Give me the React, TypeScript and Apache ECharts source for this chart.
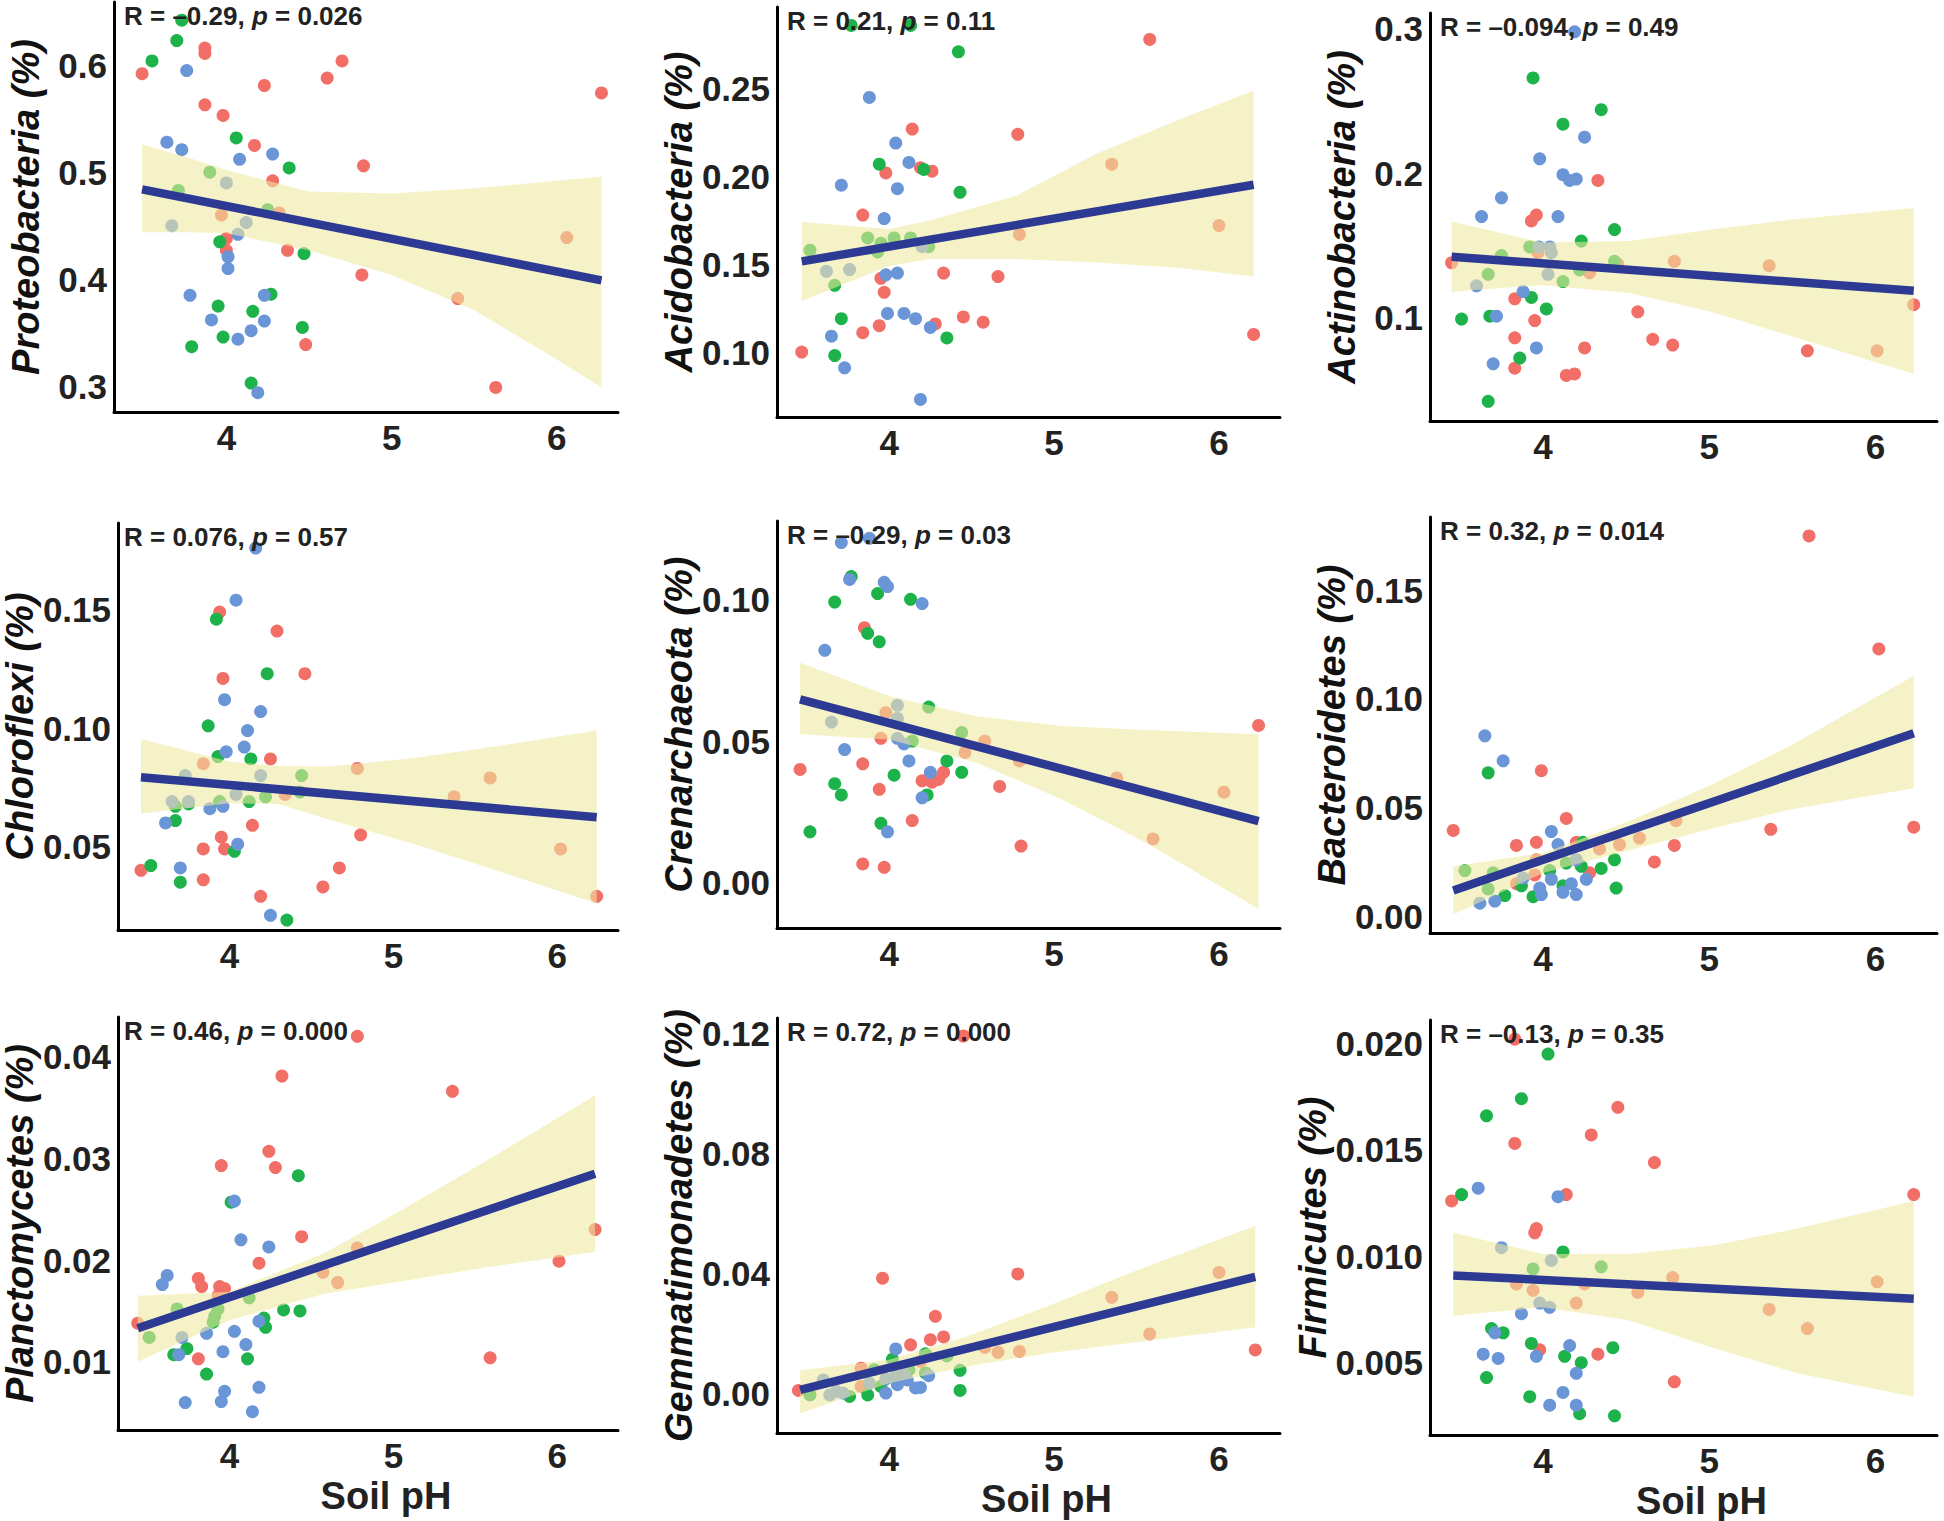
import React, { useEffect, useRef } from "react";
import * as echarts from "echarts";

type Pt = [number, number];
type BandRow = [number, number, number];

// ---------- shared x axis ----------
const xRange: Pt = [3.32, 6.37];
const xTicks = [4, 5, 6];

// ---------- Panel 1: Proteobacteria ----------
const p1Red: Pt[] = [[3.49,0.592],[3.87,0.616],[3.87,0.611],[4.70,0.604],[4.61,0.588],[4.23,0.581],[3.87,0.563],[3.98,0.553],[4.17,0.525],[4.28,0.492],[4.83,0.506],[6.27,0.574],[4.00,0.438],[4.00,0.427],[4.37,0.427],[4.82,0.404],[4.48,0.339],[5.63,0.299],[3.97,0.460],[4.32,0.462],[6.06,0.439],[5.40,0.382]];
const p1Green: Pt[] = [[3.73,0.642],[3.70,0.623],[3.55,0.604],[4.06,0.532],[4.38,0.504],[3.96,0.435],[4.47,0.424],[4.27,0.386],[3.95,0.375],[4.16,0.370],[3.98,0.346],[3.79,0.337],[4.46,0.355],[4.15,0.303],[3.90,0.500],[3.71,0.483],[4.25,0.465]];
const p1Blue: Pt[] = [[3.76,0.595],[3.64,0.528],[3.73,0.521],[4.08,0.512],[4.28,0.517],[4.07,0.442],[4.01,0.421],[4.01,0.410],[3.78,0.385],[4.23,0.385],[3.91,0.362],[4.23,0.361],[4.15,0.352],[4.07,0.344],[4.19,0.294],[4.00,0.490],[3.67,0.450],[4.12,0.453]];
const p1Line: Pt[] = [[3.49,0.484],[6.27,0.399]];
const p1Band: BandRow[] = [[3.49,0.444,0.526],[3.8,0.444,0.512],[4.0,0.443,0.502],[4.5,0.427,0.482],[5.0,0.404,0.480],[5.5,0.371,0.485],[6.0,0.325,0.492],[6.27,0.299,0.496]];
const p1YRange: Pt = [0.276, 0.659];
const p1YTicks = [0.3, 0.4, 0.5, 0.6];

// ---------- Panel 2: Acidobacteria ----------
const p2Red: Pt[] = [[5.58,0.278],[4.14,0.227],[4.78,0.224],[3.98,0.202],[4.19,0.205],[4.26,0.203],[3.84,0.178],[4.79,0.167],[5.35,0.207],[6.00,0.172],[3.95,0.142],[3.97,0.134],[4.33,0.145],[4.66,0.143],[4.45,0.120],[4.57,0.117],[4.28,0.116],[3.94,0.115],[3.84,0.111],[3.47,0.100],[6.21,0.110]];
const p2Green: Pt[] = [[3.77,0.286],[4.13,0.286],[4.42,0.271],[3.94,0.207],[4.21,0.204],[4.43,0.191],[3.52,0.158],[3.87,0.165],[3.95,0.162],[4.03,0.165],[4.13,0.165],[4.24,0.160],[3.93,0.157],[3.67,0.138],[3.71,0.119],[4.35,0.108],[3.67,0.098]];
const p2Blue: Pt[] = [[3.88,0.245],[4.04,0.219],[4.12,0.208],[3.71,0.195],[4.05,0.193],[3.97,0.176],[3.62,0.146],[3.76,0.147],[3.98,0.144],[4.05,0.145],[4.20,0.160],[3.99,0.122],[4.09,0.122],[4.16,0.119],[4.25,0.114],[3.65,0.109],[3.73,0.091],[4.19,0.073]];
const p2Line: Pt[] = [[3.47,0.1516],[6.21,0.1953]];
const p2Band: BandRow[] = [[3.47,0.129,0.174],[4.0,0.149,0.170],[4.25,0.153,0.175],[4.77,0.153,0.189],[5.26,0.151,0.213],[5.75,0.148,0.232],[6.21,0.143,0.249]];
const p2YRange: Pt = [0.063, 0.2965];
const p2YTicks = [0.10, 0.15, 0.20, 0.25];

// ---------- Panel 3: Actinobacteria ----------
const p3Red: Pt[] = [[4.33,0.195],[3.96,0.171],[3.93,0.167],[3.97,0.145],[3.45,0.138],[4.79,0.139],[5.36,0.136],[4.45,0.137],[4.28,0.131],[3.83,0.113],[4.57,0.104],[3.95,0.098],[3.83,0.086],[4.66,0.085],[4.78,0.081],[4.25,0.079],[5.59,0.077],[6.01,0.077],[6.23,0.109],[3.83,0.065],[4.14,0.060],[4.19,0.061]];
const p3Green: Pt[] = [[3.94,0.266],[4.35,0.244],[4.12,0.234],[4.43,0.161],[4.23,0.153],[3.92,0.149],[3.75,0.143],[4.43,0.139],[4.22,0.133],[3.67,0.130],[4.12,0.125],[3.93,0.114],[4.02,0.106],[3.51,0.099],[3.68,0.101],[3.86,0.072],[3.67,0.042]];
const p3Blue: Pt[] = [[4.19,0.298],[4.25,0.225],[3.98,0.210],[4.12,0.199],[4.16,0.195],[4.20,0.196],[3.75,0.183],[3.63,0.170],[4.09,0.170],[3.975,0.149],[4.04,0.149],[4.05,0.145],[4.03,0.130],[3.60,0.122],[3.88,0.118],[3.72,0.101],[3.96,0.079],[3.70,0.068]];
const p3Line: Pt[] = [[3.45,0.1422],[6.23,0.1186]];
const p3Band: BandRow[] = [[3.45,0.118,0.1665],[4.0,0.1225,0.152],[4.52,0.117,0.153],[5.01,0.104,0.161],[5.5,0.087,0.168],[6.23,0.061,0.176]];
const p3YRange: Pt = [0.0284, 0.311];
const p3YTicks = [0.1, 0.2, 0.3];

// ---------- Panel 4: Chloroflexi ----------
const p4Red: Pt[] = [[3.94,0.149],[4.29,0.141],[4.46,0.123],[3.96,0.121],[4.25,0.087],[3.84,0.085],[4.78,0.083],[5.59,0.079],[4.34,0.072],[5.37,0.071],[4.14,0.059],[4.80,0.055],[3.95,0.054],[3.84,0.049],[3.97,0.049],[6.02,0.049],[3.46,0.040],[3.84,0.036],[4.67,0.041],[4.57,0.033],[4.19,0.029],[6.24,0.029]];
const p4Green: Pt[] = [[3.92,0.146],[4.23,0.123],[3.87,0.101],[3.93,0.088],[4.13,0.087],[4.44,0.080],[4.12,0.069],[4.22,0.071],[3.94,0.069],[4.43,0.073],[3.67,0.067],[3.75,0.068],[3.67,0.061],[4.03,0.048],[3.52,0.042],[3.70,0.035],[4.35,0.019]];
const p4Blue: Pt[] = [[4.16,0.176],[4.04,0.154],[3.97,0.112],[4.19,0.107],[4.11,0.099],[4.09,0.092],[3.98,0.090],[3.73,0.080],[4.19,0.080],[3.65,0.069],[3.75,0.069],[4.04,0.072],[3.88,0.066],[3.96,0.067],[3.61,0.060],[4.05,0.051],[3.70,0.041],[4.25,0.021]];
const p4Line: Pt[] = [[3.46,0.0793],[6.24,0.0624]];
const p4Band: BandRow[] = [[3.46,0.064,0.0954],[4.0,0.0683,0.0859],[4.3,0.068,0.084],[4.61,0.0613,0.0838],[5.11,0.0514,0.0873],[5.62,0.0401,0.0923],[6.24,0.026,0.099]];
const p4YRange: Pt = [0.0148, 0.1866];
const p4YTicks = [0.05, 0.10, 0.15];

// ---------- Panel 5: Crenarchaeota ----------
const p5Red: Pt[] = [[3.85,0.090],[3.98,0.060],[3.95,0.051],[4.58,0.050],[4.46,0.046],[4.79,0.043],[5.38,0.037],[6.03,0.032],[5.60,0.0155],[6.24,0.0555],[3.46,0.040],[3.84,0.042],[3.94,0.033],[4.20,0.036],[4.26,0.0355],[4.30,0.0365],[4.33,0.039],[4.67,0.034],[4.14,0.022],[4.80,0.013],[3.84,0.0067],[3.97,0.0055]];
const p5Green: Pt[] = [[3.77,0.108],[3.93,0.102],[3.67,0.099],[4.13,0.100],[3.87,0.088],[3.94,0.085],[4.24,0.062],[4.44,0.053],[4.14,0.050],[4.35,0.043],[4.44,0.039],[4.03,0.038],[3.67,0.035],[3.71,0.031],[4.23,0.031],[3.95,0.021],[3.52,0.018]];
const p5Blue: Pt[] = [[3.71,0.120],[3.88,0.1215],[3.76,0.107],[3.97,0.106],[3.99,0.1045],[4.20,0.0985],[3.61,0.082],[4.05,0.0626],[3.65,0.0567],[4.05,0.058],[4.05,0.051],[4.09,0.049],[3.73,0.047],[4.12,0.043],[4.25,0.039],[4.20,0.030],[3.99,0.018]];
const p5Line: Pt[] = [[3.46,0.0647],[6.24,0.0218]];
const p5Band: BandRow[] = [[3.46,0.0524,0.0776],[4.0,0.0506,0.0659],[4.53,0.0424,0.0588],[5.05,0.0294,0.0553],[5.56,0.0141,0.0539],[6.24,-0.0092,0.0524]];
const p5YRange: Pt = [-0.0159, 0.1276];
const p5YTicks = [0.00, 0.05, 0.10];

// ---------- Panel 6: Bacteroidetes ----------
const p6Red: Pt[] = [[5.60,0.175],[6.02,0.123],[3.99,0.067],[3.46,0.0395],[5.37,0.040],[6.23,0.041],[4.14,0.045],[3.84,0.0326],[3.96,0.034],[4.79,0.0326],[4.67,0.025],[4.28,0.020],[4.80,0.044],[4.58,0.036],[4.46,0.033],[4.34,0.031],[4.20,0.034],[3.96,0.026],[3.95,0.019],[3.84,0.015]];
const p6Green: Pt[] = [[3.67,0.066],[4.43,0.026],[4.35,0.022],[4.44,0.013],[4.23,0.023],[3.77,0.0095],[3.87,0.014],[3.94,0.009],[4.12,0.014],[3.53,0.021],[3.70,0.020],[3.67,0.0126],[4.04,0.021],[4.14,0.0245],[4.24,0.034]];
const p6Blue: Pt[] = [[3.65,0.083],[3.76,0.0715],[4.05,0.039],[3.62,0.006],[3.71,0.007],[3.98,0.013],[3.99,0.010],[4.05,0.017],[4.12,0.011],[4.17,0.015],[4.20,0.010],[4.26,0.017],[4.09,0.033],[3.88,0.0176],[4.20,0.026]];
const p6Line: Pt[] = [[3.46,0.0119],[6.23,0.0842]];
const p6Band: BandRow[] = [[3.46,0.0008,0.023],[4.0,0.0199,0.0291],[4.49,0.0298,0.0429],[4.99,0.0398,0.0597],[5.48,0.049,0.0781],[6.23,0.0589,0.1107]];
const p6YRange: Pt = [-0.0077, 0.1837];
const p6YTicks = [0.00, 0.05, 0.10, 0.15];

// ---------- Panel 7: Planctomycetes ----------
const p7Red: Pt[] = [[4.78,0.042],[4.32,0.0381],[5.36,0.0366],[4.24,0.0307],[3.95,0.0293],[4.28,0.0291],[4.44,0.0223],[4.18,0.0197],[3.81,0.0182],[6.01,0.0199],[5.59,0.0104],[3.81,0.0103],[3.44,0.0138],[6.23,0.023],[4.78,0.0212],[4.57,0.0188],[4.66,0.0178],[3.83,0.0174],[3.94,0.0174],[3.97,0.0172],[3.93,0.0165]];
const p7Green: Pt[] = [[4.42,0.0283],[4.01,0.0257],[4.33,0.0151],[4.43,0.015],[4.21,0.0143],[4.22,0.0134],[3.74,0.0113],[3.66,0.0107],[4.11,0.0103],[3.86,0.0088],[3.68,0.0152],[3.51,0.0124],[4.12,0.0163],[3.93,0.0152],[3.91,0.0145],[3.90,0.0139]];
const p7Blue: Pt[] = [[4.03,0.0258],[4.07,0.022],[4.24,0.0213],[3.62,0.0185],[3.59,0.0176],[4.18,0.014],[3.86,0.0128],[4.03,0.013],[4.10,0.0117],[3.96,0.011],[3.69,0.0107],[4.18,0.0075],[3.97,0.0071],[3.95,0.0061],[3.73,0.006],[4.14,0.0051],[3.71,0.0124]];
const p7Line: Pt[] = [[3.44,0.0133],[6.23,0.0285]];
const p7Band: BandRow[] = [[3.44,0.010,0.0165],[4.0,0.0141,0.0169],[4.58,0.0167,0.0207],[5.08,0.018,0.0252],[5.57,0.0193,0.0298],[6.23,0.0208,0.0362]];
const p7YRange: Pt = [0.0033, 0.0439];
const p7YTicks = [0.01, 0.02, 0.03, 0.04];

// ---------- Panel 8: Gemmatimonadetes ----------
const p8Red: Pt[] = [[4.45,0.119],[3.96,0.0383],[4.78,0.0397],[4.28,0.0256],[4.33,0.0187],[4.25,0.0178],[4.13,0.0161],[6.22,0.0144],[3.45,0.0009],[6.00,0.0402],[5.35,0.0319],[5.58,0.0197],[4.66,0.0136],[4.79,0.0139],[4.58,0.0152],[3.83,0.0083],[3.83,0.0022],[4.19,0.0106]];
const p8Green: Pt[] = [[4.43,0.0076],[4.43,0.0009],[3.87,-0.0006],[3.76,-0.0011],[3.52,-0.0006],[4.02,0.0113],[4.22,0.0131],[4.35,0.0124],[3.91,0.0078],[4.12,0.0078],[4.22,0.0067],[3.95,0.0022]];
const p8Blue: Pt[] = [[4.04,0.0147],[4.24,0.0058],[3.98,0.0],[4.05,0.0028],[4.16,0.0017],[4.19,0.0019],[4.11,0.0044],[3.60,0.0044],[3.64,-0.0006],[3.72,0.0],[3.68,0.0006],[3.88,0.0033],[3.98,0.0047],[4.04,0.0056],[4.09,0.0067]];
const p8Line: Pt[] = [[3.46,0.0011],[6.22,0.0387]];
const p8Band: BandRow[] = [[3.46,-0.0067,0.0076],[4.0,0.0033,0.0111],[4.47,0.0089,0.0189],[4.96,0.0133,0.0289],[5.46,0.0167,0.04],[6.22,0.0219,0.0558]];
const p8YRange: Pt = [-0.0133, 0.125];
const p8YTicks = [0.00, 0.04, 0.08, 0.12];

// ---------- Panel 9: Firmicutes ----------
const p9Red: Pt[] = [[3.83,0.0202],[4.45,0.017],[4.29,0.0157],[3.83,0.0153],[4.67,0.0144],[4.14,0.0129],[3.45,0.0126],[6.23,0.0129],[3.96,0.0113],[3.95,0.0111],[3.98,0.0056],[4.33,0.0054],[4.79,0.0041],[3.84,0.0087],[3.94,0.0084],[4.20,0.0078],[4.25,0.0087],[4.57,0.0083],[4.78,0.009],[5.36,0.0075],[5.59,0.0066],[6.01,0.0088]];
const p9Green: Pt[] = [[4.03,0.0195],[3.87,0.0174],[3.66,0.0166],[3.51,0.0129],[4.12,0.0102],[3.69,0.0066],[3.76,0.0064],[3.93,0.0059],[4.13,0.0053],[4.23,0.005],[4.42,0.0057],[3.66,0.0043],[3.92,0.0034],[4.22,0.0026],[4.43,0.0025],[3.94,0.0094],[4.35,0.0095]];
const p9Blue: Pt[] = [[3.61,0.0132],[4.09,0.0128],[3.87,0.0073],[3.71,0.0064],[3.64,0.0054],[3.73,0.0052],[3.96,0.0053],[4.16,0.0058],[4.20,0.0045],[4.12,0.0036],[4.04,0.003],[4.20,0.003],[3.75,0.0104],[4.05,0.0098],[3.98,0.0078],[4.04,0.0076]];
const p9Line: Pt[] = [[3.46,0.0091],[6.23,0.008]];
const p9Band: BandRow[] = [[3.46,0.0072,0.0111],[4.0,0.0076,0.0101],[4.51,0.007,0.0101],[5.02,0.0057,0.0105],[5.53,0.0045,0.0113],[6.23,0.0034,0.0126]];
const p9YRange: Pt = [0.0016, 0.0211];
const p9YTicks = [0.005, 0.010, 0.015, 0.020];

// ---------- panel labels ----------
const panelNames = ["Proteobacteria (%)", "Acidobacteria (%)", "Actinobacteria (%)", "Chloroflexi (%)", "Crenarchaeota (%)", "Bacteroidetes (%)", "Planctomycetes (%)", "Gemmatimonadetes (%)", "Firmicutes (%)"];
const rValues = ["–0.29", "0.21", "–0.094", "0.076", "–0.29", "0.32", "0.46", "0.72", "–0.13"];
const pValues = ["0.026", "0.11", "0.49", "0.57", "0.03", "0.014", "0.000", "0.000", "0.35"];
const yDecimals = [1, 2, 1, 2, 2, 2, 2, 2, 3];
const xAxisTitle = "Soil pH";

// ---------- layout (pixels) ----------
const colLeft = [114, 777, 1430];
const colRight = [618, 1280, 1937];
const panelTop = [2, 7, 13, 523, 521, 517, 1017, 1018, 1020];
const panelBottom = [412, 417, 421, 930, 928, 933, 1430, 1433, 1438];

const RED = "#F26F68";
const GREEN = "#1DB34A";
const BLUE = "#6A96D8";
const BAND = "rgba(239,232,160,0.58)";
const LINE = "#2D3A94";
const FONT = "'Liberation Sans', Arial, sans-serif";

const panels = [
  { red: p1Red, green: p1Green, blue: p1Blue, line: p1Line, band: p1Band, yr: p1YRange, yt: p1YTicks },
  { red: p2Red, green: p2Green, blue: p2Blue, line: p2Line, band: p2Band, yr: p2YRange, yt: p2YTicks },
  { red: p3Red, green: p3Green, blue: p3Blue, line: p3Line, band: p3Band, yr: p3YRange, yt: p3YTicks },
  { red: p4Red, green: p4Green, blue: p4Blue, line: p4Line, band: p4Band, yr: p4YRange, yt: p4YTicks },
  { red: p5Red, green: p5Green, blue: p5Blue, line: p5Line, band: p5Band, yr: p5YRange, yt: p5YTicks },
  { red: p6Red, green: p6Green, blue: p6Blue, line: p6Line, band: p6Band, yr: p6YRange, yt: p6YTicks },
  { red: p7Red, green: p7Green, blue: p7Blue, line: p7Line, band: p7Band, yr: p7YRange, yt: p7YTicks },
  { red: p8Red, green: p8Green, blue: p8Blue, line: p8Line, band: p8Band, yr: p8YRange, yt: p8YTicks },
  { red: p9Red, green: p9Green, blue: p9Blue, line: p9Line, band: p9Band, yr: p9YRange, yt: p9YTicks },
];

function buildOption() {
  const grid: any[] = [];
  const xAxis: any[] = [];
  const yAxis: any[] = [];
  const series: any[] = [];
  const graphic: any[] = [];

  panels.forEach((p, i) => {
    const col = i % 3;
    const left = colLeft[col];
    const top = panelTop[i];
    grid.push({ left, top, width: colRight[col] - left, height: panelBottom[i] - top, containLabel: false });

    const axisLine = { show: true, onZero: false, lineStyle: { color: "#000", width: 3 } };
    const labelStyle = { fontSize: 35, fontWeight: "bold", color: "#222", fontFamily: FONT };

    xAxis.push({
      gridIndex: i, type: "value", min: xRange[0], max: xRange[1], z: 6,
      axisLine, axisTick: { show: false }, splitLine: { show: false },
      axisLabel: { ...labelStyle, margin: 8, customValues: xTicks, formatter: (v: number) => String(v) },
      name: i >= 6 ? xAxisTitle : "",
      nameLocation: "middle", nameGap: 47,
      nameTextStyle: { fontSize: 38, fontWeight: "bold", color: "#222", fontFamily: FONT, padding: [0, 0, 0, 36] },
    });
    const dec = yDecimals[i];
    yAxis.push({
      gridIndex: i, type: "value", min: p.yr[0], max: p.yr[1], z: 6,
      axisLine, axisTick: { show: false }, splitLine: { show: false },
      axisLabel: { ...labelStyle, margin: 7, customValues: p.yt, formatter: (v: number) => v.toFixed(dec) },
      name: panelNames[i], nameLocation: "middle", nameGap: 69,
      nameTextStyle: { fontSize: 38, fontWeight: "bold", fontStyle: "italic", color: "#111", fontFamily: FONT },
    });

    const groups: [Pt[], string][] = [[p.red, RED], [p.green, GREEN], [p.blue, BLUE]];
    groups.forEach(([data, color]) => {
      series.push({
        type: "scatter", xAxisIndex: i, yAxisIndex: i, data, symbol: "circle", symbolSize: 13, z: 2,
        itemStyle: { color, opacity: 1 }, silent: true,
      });
    });

    const band = p.band;
    series.push({
      type: "custom", xAxisIndex: i, yAxisIndex: i, data: band, silent: true, z: 4,
      encode: { x: 0, y: [1, 2] },
      renderItem: (params: any, api: any) => {
        if (params.dataIndex !== 0) return { type: "group", children: [] };
        const upper = band.map((r) => api.coord([r[0], r[2]]));
        const lower = band.slice().reverse().map((r) => api.coord([r[0], r[1]]));
        return { type: "polygon", shape: { points: upper.concat(lower) }, style: { fill: BAND } };
      },
    });

    series.push({
      type: "line", xAxisIndex: i, yAxisIndex: i, data: p.line, symbol: "none", silent: true, z: 5,
      lineStyle: { color: LINE, width: 8.5, cap: "butt" },
    });

    graphic.push({
      type: "text", x: left + 10, y: top + 14, z: 100,
      style: {
        text: `{n|R = ${rValues[i]}, }{i|p}{n| = ${pValues[i]}}`,
        verticalAlign: "middle",
        rich: {
          n: { fontSize: 26, fontWeight: "bold", fontFamily: FONT, fill: "#222" },
          i: { fontSize: 26, fontWeight: "bold", fontStyle: "italic", fontFamily: FONT, fill: "#222" },
        },
      },
    });
  });

  return { animation: false, backgroundColor: "#ffffff", grid, xAxis, yAxis, series, graphic };
}

export default function App() {
  const ref = useRef<HTMLDivElement>(null);
  useEffect(() => {
    if (!ref.current) return;
    const chart = echarts.init(ref.current, null, { renderer: "svg" });
    chart.setOption(buildOption() as any);
    return () => chart.dispose();
  }, []);
  return (
    <div
      ref={ref}
      style={{ position: "absolute", left: 0, top: 0, width: 1944, height: 1521, background: "#fff" }}
    />
  );
}
